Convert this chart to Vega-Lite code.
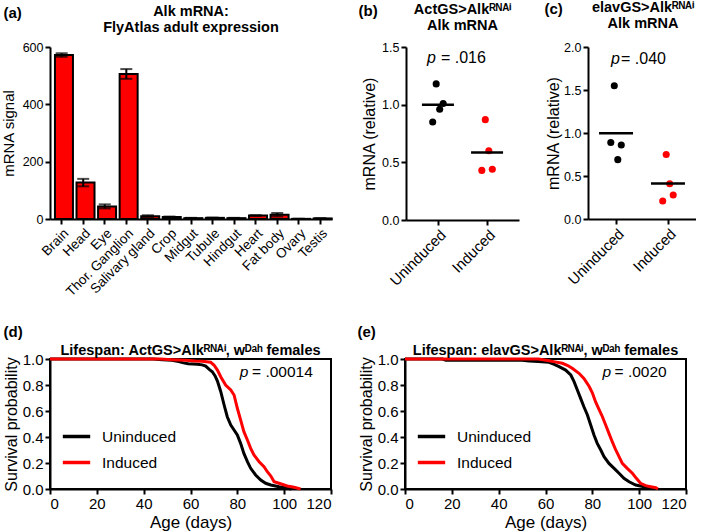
{
  "$schema": "https://vega.github.io/schema/vega-lite/v6.json",
  "padding": {"left": 1, "top": 0, "right": 0, "bottom": 0},
  "datasets": {
    "tissue": [
      {"tissue": "Brain", "mean": 572, "sem": 6},
      {"tissue": "Head", "mean": 127, "sem": 13},
      {"tissue": "Eye", "mean": 44, "sem": 7},
      {"tissue": "Thor. Ganglion", "mean": 506, "sem": 17},
      {"tissue": "Salivary gland", "mean": 10, "sem": 3},
      {"tissue": "Crop", "mean": 7, "sem": 1.5},
      {"tissue": "Midgut", "mean": 3, "sem": 1},
      {"tissue": "Tubule", "mean": 4, "sem": 1},
      {"tissue": "Hindgut", "mean": 3, "sem": 1},
      {"tissue": "Heart", "mean": 12, "sem": 1},
      {"tissue": "Fat body", "mean": 15, "sem": 6},
      {"tissue": "Ovary", "mean": 0.5, "sem": 0.3},
      {"tissue": "Testis", "mean": 2, "sem": 0.5}
    ],
    "qb": [
      {"group": "Uninduced", "rep": 1, "v": 0.85},
      {"group": "Uninduced", "rep": 2, "v": 1.18},
      {"group": "Uninduced", "rep": 3, "v": 0.96},
      {"group": "Uninduced", "rep": 4, "v": 1.01},
      {"group": "Induced", "rep": 1, "v": 0.43},
      {"group": "Induced", "rep": 2, "v": 0.87},
      {"group": "Induced", "rep": 3, "v": 0.60},
      {"group": "Induced", "rep": 4, "v": 0.44}
    ],
    "qc": [
      {"group": "Uninduced", "rep": 1, "v": 0.89},
      {"group": "Uninduced", "rep": 2, "v": 1.55},
      {"group": "Uninduced", "rep": 3, "v": 0.69},
      {"group": "Uninduced", "rep": 4, "v": 0.86},
      {"group": "Induced", "rep": 1, "v": 0.21},
      {"group": "Induced", "rep": 2, "v": 0.75},
      {"group": "Induced", "rep": 3, "v": 0.41},
      {"group": "Induced", "rep": 4, "v": 0.28}
    ],
    "sd": [
      {"group": "Uninduced", "age": 0, "s": 1},
      {"group": "Uninduced", "age": 44, "s": 1},
      {"group": "Uninduced", "age": 48, "s": 0.995},
      {"group": "Uninduced", "age": 52, "s": 0.99},
      {"group": "Uninduced", "age": 55, "s": 0.98},
      {"group": "Uninduced", "age": 57, "s": 0.97},
      {"group": "Uninduced", "age": 59, "s": 0.963},
      {"group": "Uninduced", "age": 63, "s": 0.96},
      {"group": "Uninduced", "age": 65, "s": 0.955},
      {"group": "Uninduced", "age": 66.5, "s": 0.945},
      {"group": "Uninduced", "age": 68, "s": 0.92},
      {"group": "Uninduced", "age": 69.3, "s": 0.902},
      {"group": "Uninduced", "age": 70.5, "s": 0.87},
      {"group": "Uninduced", "age": 71.5, "s": 0.83},
      {"group": "Uninduced", "age": 72.9, "s": 0.75},
      {"group": "Uninduced", "age": 74.3, "s": 0.65},
      {"group": "Uninduced", "age": 75.7, "s": 0.556},
      {"group": "Uninduced", "age": 77.2, "s": 0.492},
      {"group": "Uninduced", "age": 78.6, "s": 0.454},
      {"group": "Uninduced", "age": 80, "s": 0.415},
      {"group": "Uninduced", "age": 81.4, "s": 0.351},
      {"group": "Uninduced", "age": 82.8, "s": 0.274},
      {"group": "Uninduced", "age": 84.3, "s": 0.21},
      {"group": "Uninduced", "age": 85.7, "s": 0.159},
      {"group": "Uninduced", "age": 87.8, "s": 0.108},
      {"group": "Uninduced", "age": 90, "s": 0.069},
      {"group": "Uninduced", "age": 92.1, "s": 0.044},
      {"group": "Uninduced", "age": 94.3, "s": 0.031},
      {"group": "Uninduced", "age": 97.8, "s": 0.018},
      {"group": "Uninduced", "age": 100.5, "s": 0.01},
      {"group": "Uninduced", "age": 103, "s": 0},
      {"group": "Induced", "age": 0, "s": 1},
      {"group": "Induced", "age": 47, "s": 1},
      {"group": "Induced", "age": 52, "s": 0.995},
      {"group": "Induced", "age": 58, "s": 0.99},
      {"group": "Induced", "age": 62, "s": 0.985},
      {"group": "Induced", "age": 65, "s": 0.983},
      {"group": "Induced", "age": 68.6, "s": 0.975},
      {"group": "Induced", "age": 70, "s": 0.954},
      {"group": "Induced", "age": 71.5, "s": 0.915},
      {"group": "Induced", "age": 72.9, "s": 0.864},
      {"group": "Induced", "age": 75, "s": 0.8},
      {"group": "Induced", "age": 77.2, "s": 0.762},
      {"group": "Induced", "age": 78.6, "s": 0.723},
      {"group": "Induced", "age": 80, "s": 0.621},
      {"group": "Induced", "age": 81.4, "s": 0.531},
      {"group": "Induced", "age": 82.8, "s": 0.441},
      {"group": "Induced", "age": 84.3, "s": 0.377},
      {"group": "Induced", "age": 85.7, "s": 0.313},
      {"group": "Induced", "age": 87.1, "s": 0.262},
      {"group": "Induced", "age": 89.3, "s": 0.21},
      {"group": "Induced", "age": 91.4, "s": 0.172},
      {"group": "Induced", "age": 92.8, "s": 0.133},
      {"group": "Induced", "age": 94.3, "s": 0.1},
      {"group": "Induced", "age": 95.7, "s": 0.056},
      {"group": "Induced", "age": 97.8, "s": 0.044},
      {"group": "Induced", "age": 101.3, "s": 0.023},
      {"group": "Induced", "age": 104.2, "s": 0.013},
      {"group": "Induced", "age": 107, "s": 0}
    ],
    "se": [
      {"group": "Uninduced", "age": 0, "s": 1},
      {"group": "Uninduced", "age": 16, "s": 1},
      {"group": "Uninduced", "age": 17.5, "s": 0.99},
      {"group": "Uninduced", "age": 50, "s": 0.99},
      {"group": "Uninduced", "age": 53, "s": 0.985},
      {"group": "Uninduced", "age": 57, "s": 0.98},
      {"group": "Uninduced", "age": 61.5, "s": 0.975},
      {"group": "Uninduced", "age": 63.5, "s": 0.96},
      {"group": "Uninduced", "age": 65.8, "s": 0.941},
      {"group": "Uninduced", "age": 68.6, "s": 0.915},
      {"group": "Uninduced", "age": 70.8, "s": 0.877},
      {"group": "Uninduced", "age": 72.2, "s": 0.826},
      {"group": "Uninduced", "age": 73.6, "s": 0.762},
      {"group": "Uninduced", "age": 75, "s": 0.697},
      {"group": "Uninduced", "age": 76.4, "s": 0.633},
      {"group": "Uninduced", "age": 77.9, "s": 0.569},
      {"group": "Uninduced", "age": 79.3, "s": 0.492},
      {"group": "Uninduced", "age": 80.7, "s": 0.415},
      {"group": "Uninduced", "age": 82.1, "s": 0.351},
      {"group": "Uninduced", "age": 83.6, "s": 0.3},
      {"group": "Uninduced", "age": 85, "s": 0.249},
      {"group": "Uninduced", "age": 87.1, "s": 0.197},
      {"group": "Uninduced", "age": 89.3, "s": 0.159},
      {"group": "Uninduced", "age": 91.4, "s": 0.121},
      {"group": "Uninduced", "age": 93.5, "s": 0.082},
      {"group": "Uninduced", "age": 95.7, "s": 0.056},
      {"group": "Uninduced", "age": 98.5, "s": 0.031},
      {"group": "Uninduced", "age": 102.1, "s": 0.018},
      {"group": "Uninduced", "age": 106, "s": 0.008},
      {"group": "Uninduced", "age": 107, "s": 0},
      {"group": "Induced", "age": 0, "s": 1},
      {"group": "Induced", "age": 57, "s": 1},
      {"group": "Induced", "age": 61.5, "s": 0.987},
      {"group": "Induced", "age": 64, "s": 0.978},
      {"group": "Induced", "age": 67.2, "s": 0.967},
      {"group": "Induced", "age": 69.5, "s": 0.95},
      {"group": "Induced", "age": 71.4, "s": 0.928},
      {"group": "Induced", "age": 74.3, "s": 0.89},
      {"group": "Induced", "age": 76.4, "s": 0.851},
      {"group": "Induced", "age": 78.6, "s": 0.79},
      {"group": "Induced", "age": 80, "s": 0.74},
      {"group": "Induced", "age": 81.4, "s": 0.67},
      {"group": "Induced", "age": 82.8, "s": 0.615},
      {"group": "Induced", "age": 84.3, "s": 0.556},
      {"group": "Induced", "age": 85.7, "s": 0.492},
      {"group": "Induced", "age": 87.1, "s": 0.428},
      {"group": "Induced", "age": 88.5, "s": 0.364},
      {"group": "Induced", "age": 90, "s": 0.3},
      {"group": "Induced", "age": 91.4, "s": 0.249},
      {"group": "Induced", "age": 92.8, "s": 0.197},
      {"group": "Induced", "age": 94.9, "s": 0.159},
      {"group": "Induced", "age": 97.1, "s": 0.121},
      {"group": "Induced", "age": 98.8, "s": 0.082},
      {"group": "Induced", "age": 100.6, "s": 0.044},
      {"group": "Induced", "age": 102.8, "s": 0.026},
      {"group": "Induced", "age": 104.9, "s": 0.018},
      {"group": "Induced", "age": 107.1, "s": 0.01},
      {"group": "Induced", "age": 108, "s": 0}
    ]
  },
  "spacing": 24,
  "resolve": {
    "scale": {"x": "independent", "y": "independent", "color": "independent"},
    "legend": {"color": "independent"}
  },
  "vconcat": [
    {
      "spacing": 25,
      "resolve": {
        "scale": {"x": "independent", "y": "independent", "color": "independent"},
        "legend": {"color": "independent"}
      },
      "hconcat": [
        {
          "width": 282,
          "height": 172,
          "data": {"name": "tissue"},
          "title": {"text": ["Alk mRNA:", "FlyAtlas adult expression"], "offset": -30, "lineHeight": 15.5},
          "encoding": {
            "x": {
              "field": "tissue", "type": "nominal", "sort": null,
              "scale": {"paddingInner": 0.38, "paddingOuter": 0.23},
              "axis": {"labelAngle": -45, "labelFontSize": 13.5, "title": "(a)", "titleX": -47, "titleY": -202, "titleAlign": "left", "titleBaseline": "alphabetic", "titleFontWeight": "bold", "titleFontSize": 15, "titleAngle": 0}
            },
            "y": {
              "field": "mean", "type": "quantitative", "scale": {"domain": [0, 600], "nice": false},
              "axis": {"values": [0, 200, 400, 600], "title": "mRNA signal", "titlePadding": 6}
            }
          },
          "layer": [
            {"mark": {"type": "bar", "fill": "#ff0000", "stroke": "black", "strokeWidth": 2}},
            {"mark": {"type": "errorbar", "color": "black", "ticks": {"size": 12, "thickness": 2}, "rule": {"strokeWidth": 2}}, "encoding": {"yError": {"field": "sem"}}}
          ]
        },
        {
          "width": 113,
          "height": 173,
          "title": {"text": ["ActGS>Alkᴿᴺᴬⁱ", "Alk mRNA"], "offset": -30, "lineHeight": 15.5},
          "resolve": {"axis": {"x": "independent", "y": "independent"}},
          "layer": [
            {
              "data": {"name": "qb"},
              "mark": {"type": "circle", "size": 50, "opacity": 1},
              "encoding": {
                "x": {"field": "group", "type": "nominal", "scale": {"type": "point", "domain": ["Uninduced", "Induced"], "padding": 0.65},
                  "axis": {"labelAngle": -45, "labelFontSize": 15, "title": "(b)", "titleX": -48, "titleY": -205, "titleAlign": "left", "titleBaseline": "alphabetic", "titleFontWeight": "bold", "titleFontSize": 15, "titleAngle": 0}},
                "xOffset": {"field": "rep", "type": "nominal", "scale": {"type": "point", "range": [-7, 7]}},
                "y": {"field": "v", "type": "quantitative", "scale": {"domain": [0, 1.5], "nice": false, "zero": false},
                  "axis": {"values": [0, 0.5, 1, 1.5], "format": ".1f", "title": "mRNA (relative)", "titleFontSize": 16, "titlePadding": 4}},
                "color": {"field": "group", "type": "nominal", "scale": {"domain": ["Uninduced", "Induced"], "range": ["black", "#ff0000"]}, "legend": null}
              }
            },
            {
              "data": {"name": "qb"},
              "mark": {"type": "tick", "color": "black", "thickness": 2.5, "size": 32, "orient": "horizontal"},
              "encoding": {
                "x": {"field": "group", "type": "nominal", "axis": null},
                "y": {"aggregate": "mean", "field": "v", "type": "quantitative", "scale": {"domain": [0, 1.5], "nice": false}, "axis": null}
              }
            },
            {
              "data": {"values": [{}]},
              "mark": {"type": "text", "text": "p", "color": "black", "fontStyle": "italic", "fontSize": 16, "align": "left", "baseline": "alphabetic", "dx": -11},
              "encoding": {"x": {"datum": "Uninduced", "axis": null}, "y": {"datum": 1.36, "axis": null}}
            },
            {
              "data": {"values": [{}]},
              "mark": {"type": "text", "text": "= .016", "color": "black", "fontSize": 16, "align": "left", "baseline": "alphabetic", "dx": 3},
              "encoding": {"x": {"datum": "Uninduced", "axis": null}, "y": {"datum": 1.36, "axis": null}}
            }
          ]
        },
        {
          "width": 108,
          "height": 172,
          "title": {"text": ["elavGS>Alkᴿᴺᴬⁱ", "Alk mRNA"], "dx": 1, "offset": -30, "lineHeight": 15.5},
          "resolve": {"axis": {"x": "independent", "y": "independent"}},
          "layer": [
            {
              "data": {"name": "qc"},
              "mark": {"type": "circle", "size": 50, "opacity": 1},
              "encoding": {
                "x": {"field": "group", "type": "nominal", "scale": {"type": "point", "domain": ["Uninduced", "Induced"], "padding": 0.54},
                  "axis": {"labelAngle": -45, "labelFontSize": 15, "title": "(c)", "titleX": -44, "titleY": -206, "titleAlign": "left", "titleBaseline": "alphabetic", "titleFontWeight": "bold", "titleFontSize": 15, "titleAngle": 0}},
                "xOffset": {"field": "rep", "type": "nominal", "scale": {"type": "point", "range": [-7, 7]}},
                "y": {"field": "v", "type": "quantitative", "scale": {"domain": [0, 2], "nice": false},
                  "axis": {"values": [0, 0.5, 1, 1.5, 2], "format": ".1f", "title": "mRNA (relative)", "titleFontSize": 16, "titlePadding": 2}},
                "color": {"field": "group", "type": "nominal", "scale": {"domain": ["Uninduced", "Induced"], "range": ["black", "#ff0000"]}, "legend": null}
              }
            },
            {
              "data": {"name": "qc"},
              "mark": {"type": "tick", "color": "black", "thickness": 2.5, "size": 34, "orient": "horizontal"},
              "encoding": {
                "x": {"field": "group", "type": "nominal", "axis": null},
                "y": {"aggregate": "mean", "field": "v", "type": "quantitative", "scale": {"domain": [0, 2], "nice": false}, "axis": null}
              }
            },
            {
              "data": {"values": [{}]},
              "mark": {"type": "text", "text": "p", "color": "black", "fontStyle": "italic", "fontSize": 16, "align": "left", "baseline": "alphabetic", "dx": -5},
              "encoding": {"x": {"datum": "Uninduced", "axis": null}, "y": {"datum": 1.8, "axis": null}}
            },
            {
              "data": {"values": [{}]},
              "mark": {"type": "text", "text": "= .040", "color": "black", "fontSize": 16, "align": "left", "baseline": "alphabetic", "dx": 5},
              "encoding": {"x": {"datum": "Uninduced", "axis": null}, "y": {"datum": 1.8, "axis": null}}
            }
          ]
        }
      ]
    },
    {
      "spacing": 23,
      "resolve": {
        "scale": {"x": "independent", "y": "independent", "color": "independent"},
        "legend": {"color": "independent"}
      },
      "hconcat": [
        {
          "width": 281,
          "height": 130,
          "view": {"stroke": "black", "strokeWidth": 2},
          "title": {"text": "Lifespan: ActGS>Alkᴿᴺᴬⁱ, wᴰᵃʰ females", "offset": -34},
          "resolve": {"axis": {"x": "independent", "y": "independent"}},
          "layer": [
            {
              "data": {"name": "sd"},
              "mark": {"type": "line", "strokeWidth": 3},
              "encoding": {
                "x": {"field": "age", "type": "quantitative", "scale": {"domain": [0, 120], "nice": false},
                  "axis": {"values": [0, 20, 40, 60, 80, 100, 120], "title": "Age (days)", "labelFontSize": 15, "titleFontSize": 17, "titlePadding": 3}},
                "y": {"field": "s", "type": "quantitative", "scale": {"domain": [0, 1], "nice": false},
                  "axis": {"values": [0, 0.2, 0.4, 0.6, 0.8, 1], "format": ".1f", "title": "Survival probability", "labelFontSize": 15, "titleFontSize": 16, "titlePadding": 3}},
                "color": {"field": "group", "type": "nominal", "scale": {"domain": ["Uninduced", "Induced"], "range": ["black", "#ff0000"]},
                  "legend": {"title": null, "orient": "none", "legendX": 11, "legendY": 62, "padding": 0, "symbolType": "stroke", "symbolStrokeWidth": 3.5, "symbolSize": 750, "labelFontSize": 15.5, "labelOffset": 10, "rowPadding": 2, "labelColor": "black"}}
              }
            },
            {
              "data": {"values": [{}]},
              "mark": {"type": "text", "text": "p", "color": "black", "fontStyle": "italic", "fontSize": 15.5, "align": "left", "baseline": "alphabetic"},
              "encoding": {
                "x": {"datum": 81, "axis": null},
                "y": {"datum": 0.864, "axis": {"orient": "right", "domain": false, "ticks": false, "labels": false, "grid": false, "title": "(d)", "titleAngle": 0, "titleX": -328, "titleY": -23, "titleAlign": "left", "titleBaseline": "alphabetic", "titleFontWeight": "bold", "titleFontSize": 15}}
              }
            },
            {
              "data": {"values": [{}]},
              "mark": {"type": "text", "text": "= .00014", "color": "black", "fontSize": 15.5, "align": "left", "baseline": "alphabetic"},
              "encoding": {"x": {"datum": 86.3, "axis": null}, "y": {"datum": 0.864, "axis": null}}
            }
          ]
        },
        {
          "width": 281,
          "height": 130,
          "view": {"stroke": "black", "strokeWidth": 2},
          "title": {"text": "Lifespan: elavGS>Alkᴿᴺᴬⁱ, wᴰᵃʰ females", "offset": -34},
          "resolve": {"axis": {"x": "independent", "y": "independent"}},
          "layer": [
            {
              "data": {"name": "se"},
              "mark": {"type": "line", "strokeWidth": 3},
              "encoding": {
                "x": {"field": "age", "type": "quantitative", "scale": {"domain": [0, 120], "nice": false},
                  "axis": {"values": [0, 20, 40, 60, 80, 100, 120], "title": "Age (days)", "labelFontSize": 15, "titleFontSize": 17, "titlePadding": 3}},
                "y": {"field": "s", "type": "quantitative", "scale": {"domain": [0, 1], "nice": false},
                  "axis": {"values": [0, 0.2, 0.4, 0.6, 0.8, 1], "format": ".1f", "title": "Survival probability", "labelFontSize": 15, "titleFontSize": 16, "titlePadding": 3}},
                "color": {"field": "group", "type": "nominal", "scale": {"domain": ["Uninduced", "Induced"], "range": ["black", "#ff0000"]},
                  "legend": {"title": null, "orient": "none", "legendX": 11, "legendY": 62, "padding": 0, "symbolType": "stroke", "symbolStrokeWidth": 3.5, "symbolSize": 750, "labelFontSize": 15.5, "labelOffset": 10, "rowPadding": 2, "labelColor": "black"}}
              }
            },
            {
              "data": {"values": [{}]},
              "mark": {"type": "text", "text": "p", "color": "black", "fontStyle": "italic", "fontSize": 15.5, "align": "left", "baseline": "alphabetic"},
              "encoding": {
                "x": {"datum": 84.3, "axis": null},
                "y": {"datum": 0.864, "axis": {"orient": "right", "domain": false, "ticks": false, "labels": false, "grid": false, "title": "(e)", "titleAngle": 0, "titleX": -329, "titleY": -23, "titleAlign": "left", "titleBaseline": "alphabetic", "titleFontWeight": "bold", "titleFontSize": 15}}
              }
            },
            {
              "data": {"values": [{}]},
              "mark": {"type": "text", "text": "= .0020", "color": "black", "fontSize": 15.5, "align": "left", "baseline": "alphabetic"},
              "encoding": {"x": {"datum": 89.5, "axis": null}, "y": {"datum": 0.864, "axis": null}}
            }
          ]
        }
      ]
    }
  ],
  "config": {
    "font": "Liberation Sans",
    "view": {"stroke": null},
    "axis": {
      "domainColor": "black", "domainWidth": 2, "tickColor": "black", "tickWidth": 2, "tickSize": 5,
      "labelColor": "black", "titleColor": "black", "labelFont": "Liberation Sans", "titleFont": "Liberation Sans",
      "grid": false, "titleFontWeight": "normal", "labelFontSize": 12.5, "titleFontSize": 15
    },
    "title": {"font": "Liberation Sans", "fontSize": 14.5, "fontWeight": "bold", "color": "black", "anchor": "middle"},
    "legend": {"labelFont": "Liberation Sans"}
  }
}
